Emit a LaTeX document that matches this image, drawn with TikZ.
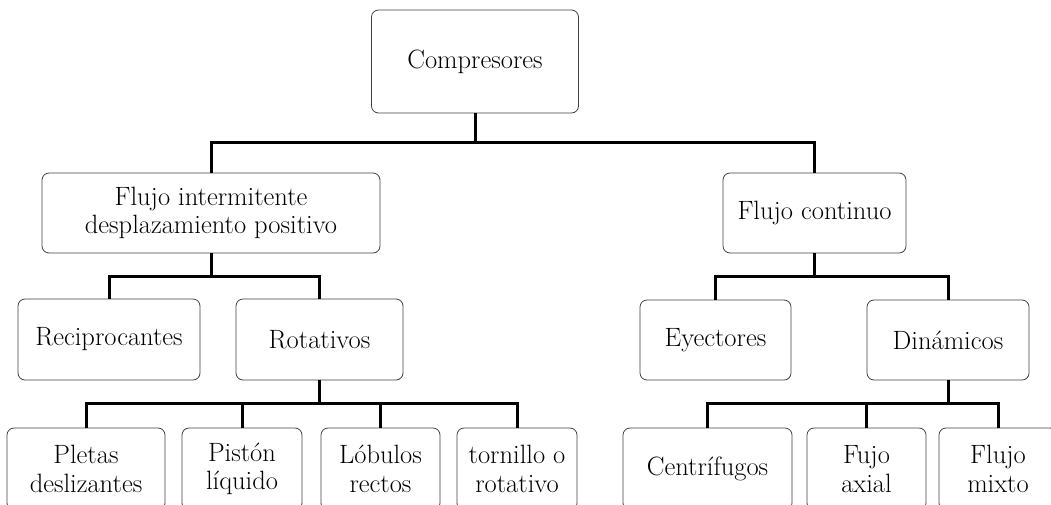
\documentclass[tikz,border=0pt]{standalone}
\usepackage{fontspec}
\tikzset{
  caja/.style={draw=black!75, line width=0.8pt, rounded corners=7pt, align=center,
    inner sep=2pt, font=\fontsize{26.5}{28.5}\selectfont},
  enlace/.style={line width=3pt, black}
}
\begin{document}
\begin{tikzpicture}[x=1pt,y=-1pt]
      \useasboundingbox (0,0) rectangle (1051,504);
      \clip (0,0) rectangle (1051,504);
      \node[caja, minimum width=207pt, minimum height=103pt] (comp) at (475,61.5) {Compresores};
      \node[caja, minimum width=338pt, minimum height=80pt] (inter) at (211,213) {Flujo intermitente\\desplazamiento positivo};
      \node[caja, minimum width=183pt, minimum height=80pt] (cont) at (814.5,213) {Flujo continuo};
      \node[caja, minimum width=182pt, minimum height=81pt] (recip) at (109,339.5) {Reciprocantes};
      \node[caja, minimum width=167pt, minimum height=81pt] (rot) at (319.5,339.5) {Rotativos};
      \node[caja, minimum width=151pt, minimum height=80pt] (eye) at (715.5,340) {Eyectores};
      \node[caja, minimum width=162pt, minimum height=80pt] (din) at (948,340) {Dinámicos};
      \node[caja, minimum width=158pt, minimum height=82pt] (pletas) at (86,469) {Pletas\\deslizantes};
      \node[caja, minimum width=120pt, minimum height=82pt] (piston) at (242,469) {Pistón\\líquido};
      \node[caja, minimum width=119pt, minimum height=82pt] (lobulos) at (380.5,469) {Lóbulos\\rectos};
      \node[caja, minimum width=120pt, minimum height=82pt] (tornillo) at (517,469) {tornillo o\\rotativo};
      \node[caja, minimum width=169pt, minimum height=82pt] (centri) at (707.5,469) {Centrífugos};
      \node[caja, minimum width=119pt, minimum height=82pt] (axial) at (866.5,469) {Fujo\\axial};
      \node[caja, minimum width=118pt, minimum height=82pt] (mixto) at (998,469) {Flujo\\mixto};
      \coordinate (j1) at (475,142);
      \coordinate (j2) at (211,276);
      \coordinate (j3) at (814.5,276);
      \coordinate (j4) at (319.5,403);
      \coordinate (j5) at (948,403);
      \begin{scope}[enlace]
        \draw (comp.south) to (j1);
        \draw (inter.north) |- (j1) -| (cont.north);
        \draw (inter.south) to (j2);
        \draw (recip.north) |- (j2) -| (rot.north);
        \draw (cont.south) to (j3);
        \draw (eye.north) |- (j3) -| (din.north);
        \draw (rot.south) to (j4);
        \draw (pletas.north) |- (j4) -| (tornillo.north);
        \draw (piston.north) to (piston.north |- j4);
        \draw (lobulos.north) to (lobulos.north |- j4);
        \draw (din.south) to (j5);
        \draw (centri.north) |- (j5) -| (mixto.north);
        \draw (axial.north) to (axial.north |- j5);
      \end{scope}
    \end{tikzpicture}
\end{document}
